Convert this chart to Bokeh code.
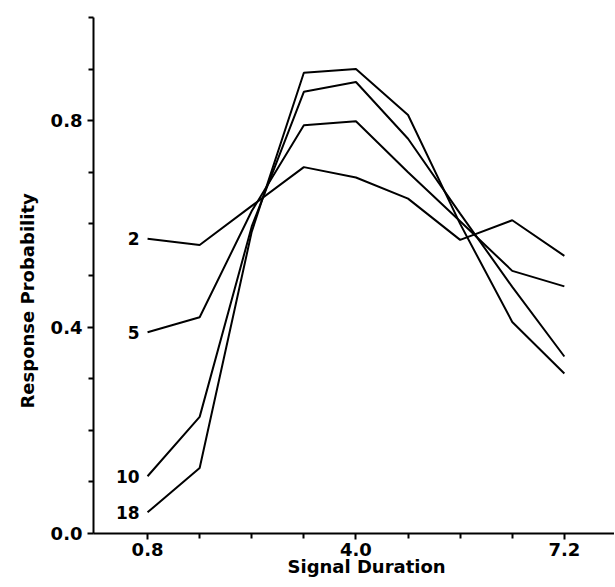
from bokeh.plotting import figure
from bokeh.models import FixedTicker, PrintfTickFormatter, Range1d, Title, ColumnDataSource
from bokeh.core.properties import value
from bokeh.embed import file_html
from bokeh.resources import INLINE

# Data
durations = [0.8, 1.6, 2.4, 3.2, 4.0, 4.8, 5.6, 6.4, 7.2]
series_names = ["2", "5", "10", "18"]
resp_2 = [0.571, 0.559, 0.635, 0.710, 0.690, 0.649, 0.569, 0.607, 0.538]
resp_5 = [0.390, 0.419, 0.625, 0.791, 0.799, 0.700, 0.605, 0.509, 0.479]
resp_10 = [0.111, 0.226, 0.595, 0.856, 0.875, 0.765, 0.620, 0.478, 0.343]
resp_18 = [0.041, 0.127, 0.585, 0.893, 0.900, 0.811, 0.600, 0.410, 0.310]
x_major_ticks = [0.8, 4.0, 7.2]
x_minor_ticks = [1.6, 2.4, 3.2, 4.8, 5.6, 6.4]
y_major_ticks = [0.0, 0.4, 0.8]
y_minor_ticks = [0.1, 0.2, 0.3, 0.5, 0.6, 0.7, 0.9, 1.0]

all_series = [resp_2, resp_5, resp_10, resp_18]

FONT = "DejaVu Sans"

p = figure(width=614, height=586, output_backend="svg", toolbar_location=None,
           x_range=Range1d(-0.03, 7.97), y_range=Range1d(0.0, 1.0),
           min_border_left=93, min_border_right=0, min_border_top=17, min_border_bottom=53)

p.outline_line_color = None
p.xgrid.visible = False
p.ygrid.visible = False
p.background_fill_color = "white"
p.border_fill_color = "white"

for s in all_series:
    p.line(durations, s, line_color="black", line_width=2)

src = ColumnDataSource(dict(x=[durations[0]] * len(all_series),
                            y=[s[0] for s in all_series],
                            t=series_names))
p.text(x="x", y="y", text="t", source=src, x_offset=-8, text_align="right",
       text_baseline="middle", text_font=value(FONT), text_font_style="bold",
       text_font_size="17px", text_color="black")

# axes
for ax in (p.xaxis[0], p.yaxis[0]):
    ax.axis_line_width = 2
    ax.axis_line_color = "black"
    ax.major_tick_line_width = 2
    ax.minor_tick_line_width = 2
    ax.major_tick_in = 0
    ax.minor_tick_in = 0
    ax.major_tick_out = 6
    ax.minor_tick_out = 5
    ax.major_label_text_font = FONT
    ax.major_label_text_font_style = "bold"
    ax.major_label_text_font_size = "18px"
    ax.major_label_text_color = "black"
    ax.formatter = PrintfTickFormatter(format="%.1f")

p.xaxis.ticker = FixedTicker(ticks=x_major_ticks, minor_ticks=x_minor_ticks)
p.yaxis.ticker = FixedTicker(ticks=y_major_ticks, minor_ticks=y_minor_ticks)
p.xaxis.major_label_standoff = 3
p.yaxis.major_label_standoff = 5

xtitle = Title(text="Signal Duration", align="left", offset=194, standoff=-9,
               text_font=FONT, text_font_style="bold", text_font_size="18px",
               text_color="black")
p.add_layout(xtitle, "below")

ytitle = Title(text="Response Probability", align="left", offset=125, standoff=19,
               text_font=FONT, text_font_style="bold", text_font_size="18px",
               text_color="black")
p.add_layout(ytitle, "left")

html = file_html(p, INLINE)
open("out.html", "w").write(html)
